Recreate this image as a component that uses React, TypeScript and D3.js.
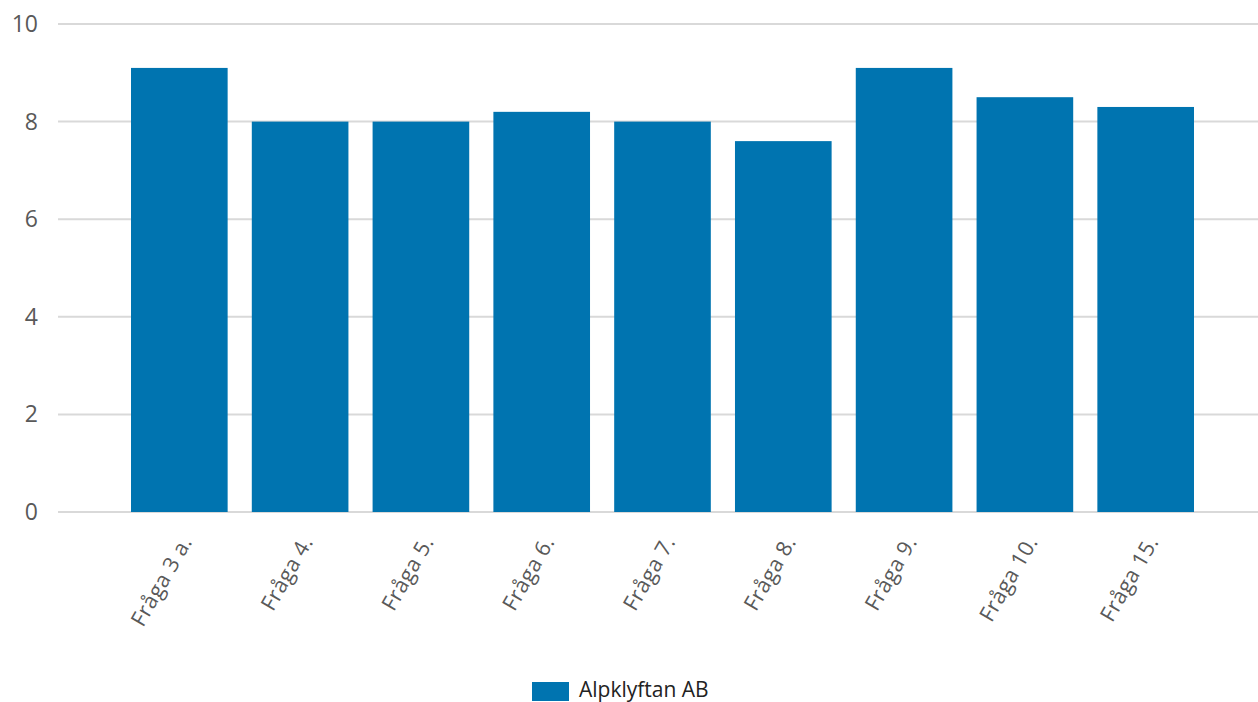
import React from "react";
import * as d3 from "d3";

const categories = ["Fråga 3 a.", "Fråga 4.", "Fråga 5.", "Fråga 6.", "Fråga 7.", "Fråga 8.", "Fråga 9.", "Fråga 10.", "Fråga 15."];
const values = [9.1, 8.0, 8.0, 8.2, 8.0, 7.6, 9.1, 8.5, 8.3];
const yTicks = [0, 2, 4, 6, 8, 10];
const seriesName = "Alpklyftan AB";

const W = 1258;
const H = 702;
const font = "'Open Sans', 'Noto Sans', sans-serif";

export default function App() {
  const x = d3.scaleBand<string>().domain(categories).range([131, 1194]).paddingInner(0.2).paddingOuter(0);
  const y = d3.scaleLinear().domain([0, 10]).range([512, 24]);
  return (
    <svg width={W} height={H} style={{ position: "absolute", left: 0, top: 0 }} fontFamily={font}>
      {yTicks.map((t) => (
        <g key={t}>
          <line x1={58} x2={1258} y1={y(t)} y2={y(t)} stroke="#d9d9d9" strokeWidth={2} />
          <text x={38} y={y(t)} dy="0.35em" textAnchor="end" fontSize={23} fill="#595959">{t}</text>
        </g>
      ))}
      {categories.map((c, i) => (
        <rect key={c} x={x(c)} y={y(values[i])} width={x.bandwidth()} height={y(0) - y(values[i])} fill="#0074b0" />
      ))}
      {categories.map((c) => {
        const cx = (x(c) as number) + x.bandwidth() / 2 + 7;
        const cy = 538;
        return (
          <text key={c} transform={`translate(${cx},${cy}) rotate(-60)`} textAnchor="end" fontSize={21.5} fill="#595959" dy="0.35em" letterSpacing={0.3}>{c}</text>
        );
      })}
      <rect x={532} y={682} width={37} height={19} fill="#0074b0" />
      <text x={579} y={690} dy="0.35em" fontSize={21} fill="#222">{seriesName}</text>
    </svg>
  );
}
